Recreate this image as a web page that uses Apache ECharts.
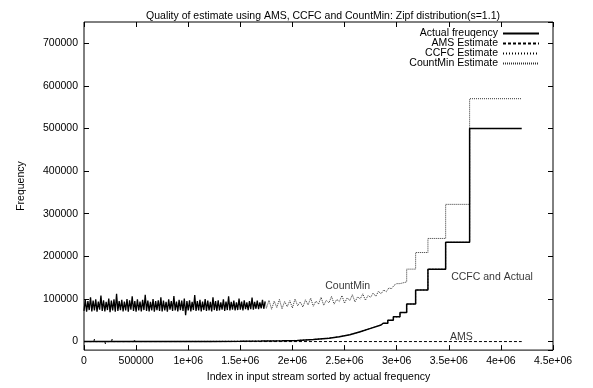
<!DOCTYPE html>
<html>
<head>
<meta charset="utf-8">
<script src="https://cdn.jsdelivr.net/npm/echarts@6/dist/echarts.min.js"></script>
<style>
  html, body { margin: 0; padding: 0; background: #fff; }
  #chart { width: 593px; height: 388px; }
</style>
</head>
<body>
<div id="chart"></div>
<script>
const chartTitle = 'Quality of estimate using AMS, CCFC and CountMin: Zipf distribution(s=1.1)'
const seriesNames = ['Actual freuqency', 'AMS Estimate', 'CCFC Estimate', 'CountMin Estimate']

const xTickValues = [0, 500000, 1000000, 1500000, 2000000, 2500000, 3000000, 3500000, 4000000, 4500000]
const xTickLabels = ['0', '500000', '1e+06', '1.5e+06', '2e+06', '2.5e+06', '3e+06', '3.5e+06', '4e+06', '4.5e+06']
const yTickValues = [0, 100000, 200000, 300000, 400000, 500000, 600000, 700000]

// actual frequency: smooth low part, then one step per heavy item
const actualCurveX = [0, 400000, 800000, 1200000, 1500000, 1700000, 1900000, 2050000, 2200000, 2350000, 2450000, 2550000, 2650000, 2750000, 2850000]
const actualCurveY = [50, 100, 200, 400, 700, 1100, 1800, 2800, 4800, 8000, 11500, 16000, 23000, 31000, 39000]
const actualStepEdges = [2870000, 2915000, 2968000, 3032000, 3096000, 3182000, 3300000, 3470000, 3700000, 4200000]
const actualStepValues = [43000, 50000, 58000, 68000, 88000, 121000, 170000, 233000, 500000]

// AMS estimate, flat around zero
const amsX = [0, 95000, 100000, 105000, 200000, 205000, 210000, 265000, 270000, 275000, 480000, 485000, 490000, 700000, 705000, 710000, 4200000]
const amsY = [0, 0, 6000, 0, 0, -5000, 0, 0, 6000, 0, 0, 5000, 0, 0, -4000, 0, 0]

// CountMin estimate: noisy band for the light items
const cmDenseStep = 12500
const cmDense = [
  72000, 98000, 70000, 95000, 74000, 104000, 71000, 96000, 73000, 99000,
  70000, 94000, 75000, 108000, 72000, 97000, 71000, 93000, 74000, 101000,
  69000, 96000, 73000, 99000, 70000, 112000, 72000, 95000, 74000, 98000,
  71000, 94000, 73000, 100000, 70000, 97000, 75000, 106000, 72000, 95000,
  70000, 99000, 73000, 94000, 71000, 98000, 74000, 110000, 72000, 96000,
  71000, 93000, 73000, 100000, 70000, 95000, 74000, 97000, 72000, 104000,
  71000, 96000, 73000, 93000, 70000, 99000, 75000, 95000, 72000, 107000,
  73000, 94000, 71000, 98000, 74000, 96000, 72000, 101000, 62000, 95000,
  73000, 97000, 71000, 93000, 74000, 109000, 72000, 95000, 73000, 98000,
  71000, 94000, 74000, 100000, 72000, 96000, 73000, 93000, 71000, 104000,
  74000, 95000, 72000, 97000, 73000, 92000, 75000, 99000, 72000, 94000,
  74000, 106000, 73000, 93000, 75000, 96000, 73000, 92000, 74000, 101000,
  75000, 94000, 73000, 97000, 76000, 92000, 74000, 95000, 76000, 103000,
  75000, 93000, 77000, 96000, 76000, 92000, 78000, 98000, 77000, 94000
]
const cmSparseStart = 1750000
const cmSparseStep = 25000
const cmSparse = [
  78000, 97000, 76000, 95000, 80000, 99000, 77000, 94000, 82000, 96000,
  79000, 100000, 84000, 93000, 81000, 98000, 86000, 102000, 83000, 95000,
  88000, 104000, 85000, 97000, 91000, 106000, 88000, 99000, 94000, 108000,
  90000, 103000, 96000, 110000, 93000, 105000, 100000, 112000, 97000, 108000,
  104000, 114000, 106000, 118000, 112000, 121000, 117000, 126000, 124000, 132000
]
const cmStepEdges = [3000000, 3032000, 3096000, 3182000, 3300000, 3470000, 3700000, 4200000]
const cmStepValues = [136000, 140000, 170000, 209000, 242000, 322000, 570000]

// in-plot annotations
const noteTexts = ['CountMin', 'CCFC and Actual', 'AMS']
const noteX = [2530000, 3915000, 3620000]
const noteY = [130000, 151000, 11000]

function stepPoints(edges, values) {
  const pts = []
  for (let i = 0; i < values.length; i++) {
    pts.push([edges[i], values[i]])
    pts.push([edges[i + 1], values[i]])
  }
  return pts
}

const actualData = actualCurveX.map((x, i) => [x, actualCurveY[i]])
  .concat(stepPoints(actualStepEdges, actualStepValues))
const amsData = amsX.map((x, i) => [x, amsY[i]])
const denseData = cmDense.map((v, i) => [i * cmDenseStep, v])
const countMinData = [denseData[denseData.length - 1]]
  .concat(cmSparse.map((v, i) => [cmSparseStart + i * cmSparseStep, v]))
  .concat(stepPoints(cmStepEdges, cmStepValues))
const noteData = noteTexts.map((t, i) => ({ name: t, value: [noteX[i], noteY[i]] }))

const font = 'Liberation Sans, Arial, sans-serif'
var myChart = echarts.init(document.getElementById('chart'), null, { renderer: 'canvas' })

var tickStyle = { show: true, inside: true, length: 5, lineStyle: { color: '#000' } }
var hiddenLine = { show: false, onZero: false }

function yLabel(value) {
  return yTickValues.indexOf(value) >= 0 ? String(value) : ''
}

var option = {
  animation: false,
  backgroundColor: '#fff',
  textStyle: { fontFamily: font, color: '#000' },
  title: {
    text: chartTitle,
    left: 318,
    top: 6,
    textAlign: 'center',
    textStyle: { fontSize: 10.5, fontWeight: 'normal', color: '#000', fontFamily: font }
  },
  legend: {
    data: seriesNames,
    orient: 'vertical',
    right: 53,
    top: 28,
    align: 'right',
    itemWidth: 36,
    itemHeight: 8,
    itemGap: -1,
    padding: 0,
    textStyle: { fontSize: 10.5, lineHeight: 10, color: '#000', fontFamily: font }
  },
  grid: {
    left: 84,
    right: 40,
    top: 22,
    bottom: 37,
    show: true,
    borderColor: '#000',
    borderWidth: 1,
    containLabel: false
  },
  xAxis: [
    {
      type: 'value',
      min: 0,
      max: 4500000,
      interval: 500000,
      position: 'bottom',
      name: 'Index in input stream sorted by actual frequency',
      nameLocation: 'middle',
      nameGap: 21,
      nameTextStyle: { fontSize: 10.5, color: '#000' },
      axisLine: hiddenLine,
      axisTick: tickStyle,
      axisLabel: {
        color: '#000',
        fontSize: 10.5,
        margin: 6,
        formatter: function (value) {
          const i = xTickValues.indexOf(value)
          return i >= 0 ? xTickLabels[i] : ''
        }
      },
      splitLine: { show: false }
    },
    {
      type: 'value',
      min: 0,
      max: 4500000,
      interval: 500000,
      position: 'top',
      axisLine: hiddenLine,
      axisTick: tickStyle,
      axisLabel: { show: false },
      splitLine: { show: false }
    }
  ],
  yAxis: [
    {
      type: 'value',
      min: -20000,
      max: 750000,
      splitNumber: 8,
      position: 'left',
      name: 'Frequency',
      nameLocation: 'middle',
      nameGap: 57,
      nameTextStyle: { fontSize: 10.5, color: '#000' },
      axisLine: hiddenLine,
      axisTick: tickStyle,
      axisLabel: {
        color: '#000',
        fontSize: 10.5,
        margin: 6,
        showMinLabel: false,
        showMaxLabel: false,
        formatter: yLabel
      },
      splitLine: { show: false }
    },
    {
      type: 'value',
      min: -20000,
      max: 750000,
      splitNumber: 8,
      position: 'right',
      axisLine: hiddenLine,
      axisTick: tickStyle,
      axisLabel: { show: false },
      splitLine: { show: false }
    }
  ],
  series: [
    {
      name: seriesNames[0],
      type: 'line',
      data: actualData,
      symbol: 'none',
      lineStyle: { color: '#000', width: 1.5, type: 'solid' },
      itemStyle: { color: '#000', opacity: 0 },
      z: 3
    },
    {
      name: seriesNames[1],
      type: 'line',
      data: amsData,
      symbol: 'none',
      lineStyle: { color: '#000', width: 1, type: [3, 2] },
      itemStyle: { color: '#000', opacity: 0 },
      z: 4
    },
    {
      name: seriesNames[2],
      type: 'line',
      data: actualData,
      symbol: 'none',
      lineStyle: { color: '#000', width: 1, type: [1, 2] },
      itemStyle: { color: '#000', opacity: 0 },
      z: 4
    },
    {
      name: seriesNames[3],
      type: 'line',
      data: countMinData,
      symbol: 'none',
      lineStyle: { color: '#333', width: 1, type: [1, 1] },
      itemStyle: { color: '#333', opacity: 0 },
      z: 2
    },
    {
      // dense part of the CountMin estimate, overlapping into a solid band
      type: 'line',
      data: denseData,
      symbol: 'none',
      lineStyle: { color: '#000', width: 1.3, type: 'solid' },
      z: 2
    },
    {
      type: 'scatter',
      data: noteData,
      symbolSize: 0,
      silent: true,
      label: {
        show: true,
        position: 'inside',
        formatter: '{b}',
        color: '#000',
        fontSize: 10.5,
        fontFamily: font
      },
      z: 5
    }
  ]
}

myChart.setOption(option)

window.onresize = function () {
  myChart.resize()
}
</script>
</body>
</html>
